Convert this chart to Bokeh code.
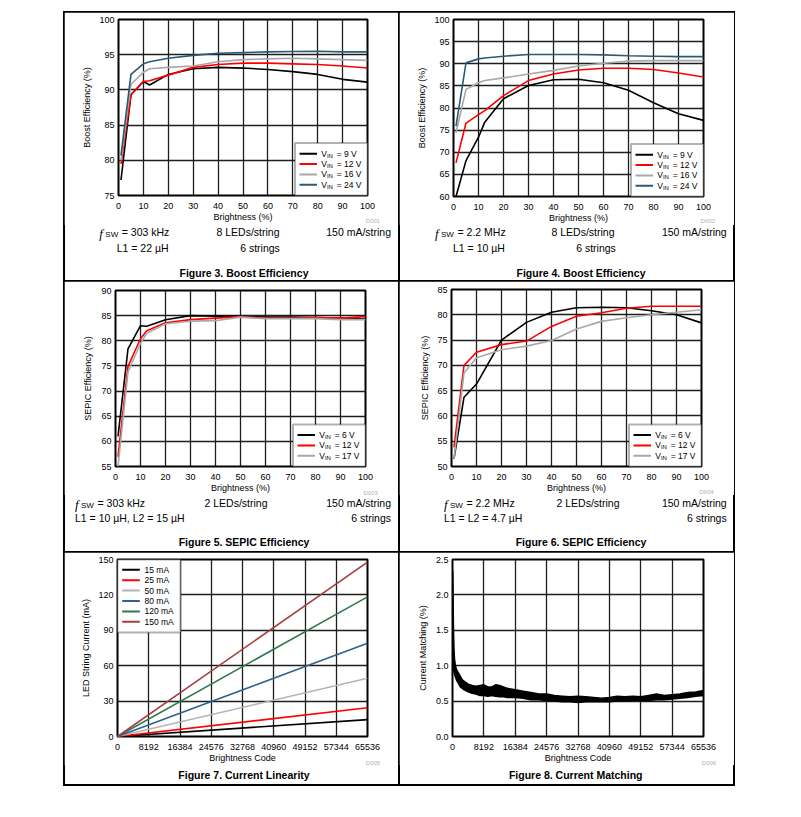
from bokeh.plotting import figure
from bokeh.models import FixedTicker, Label, BoxAnnotation, Arrow, Spacer, NumeralTickFormatter, Div
from bokeh.layouts import row, column
from bokeh.embed import file_html
from bokeh.resources import INLINE

FONT = "Liberation Sans"
BLACK, RED, GRAY, TEAL = "#000000", "#ff0000", "#a8a8a8", "#2b5a78"

# ---------------- data ----------------
pct_ticks = [0, 10, 20, 30, 40, 50, 60, 70, 80, 90, 100]
code_ticks = [0, 8192, 16384, 24576, 32768, 40960, 49152, 57344, 65536]

# Figure 3 - Boost efficiency, 303 kHz
f3_x = [1, 5, 10, 12.5, 20, 30, 40, 50, 60, 70, 80, 90, 100]
f3_vin9 = [77.2, 89.3, 91.2, 90.7, 92.2, 93.0, 93.2, 93.1, 92.9, 92.6, 92.2, 91.5, 91.1]
f3_vin12 = [79.5, 89.3, 91.2, 91.3, 92.1, 93.2, 93.6, 93.8, 93.8, 93.7, 93.6, 93.4, 93.1]
f3_vin16 = [80.0, 90.8, 92.5, 93.0, 93.2, 93.4, 94.0, 94.3, 94.4, 94.5, 94.4, 94.3, 94.2]
f3_vin24 = [80.7, 92.2, 93.7, 94.0, 94.5, 94.9, 95.2, 95.3, 95.4, 95.45, 95.5, 95.4, 95.4]
f3_yticks = [75, 80, 85, 90, 95, 100]

# Figure 4 - Boost efficiency, 2.2 MHz
f4_x = [1, 5, 10, 12.5, 20, 30, 40, 50, 60, 70, 80, 90, 100]
f4_vin9 = [60.0, 68.1, 73.4, 76.8, 82.1, 85.1, 86.4, 86.5, 85.7, 84.0, 81.2, 78.7, 77.2]
f4_vin12 = [67.6, 76.6, 78.5, 79.4, 82.8, 86.2, 87.7, 88.6, 89.0, 89.0, 88.7, 87.9, 87.0]
f4_vin16 = [74.4, 84.2, 85.7, 86.2, 86.8, 87.7, 88.5, 89.5, 90.1, 90.6, 90.7, 90.7, 90.7]
f4_vin24 = [75.9, 90.2, 91.1, 91.3, 91.7, 92.1, 92.1, 92.1, 92.0, 91.8, 91.7, 91.6, 91.6]
f4_yticks = [60, 65, 70, 75, 80, 85, 90, 95, 100]

# Figure 5 - SEPIC efficiency, 303 kHz
f5_x = [1, 5, 10, 12.5, 20, 30, 40, 50, 60, 70, 80, 90, 100]
f5_vin6 = [61.0, 78.4, 83.0, 82.9, 84.2, 85.0, 84.9, 84.8, 84.7, 84.7, 84.6, 84.5, 84.3]
f5_vin12 = [56.9, 74.9, 80.4, 82.0, 83.6, 84.2, 84.5, 84.8, 84.5, 84.5, 84.6, 84.5, 84.8]
f5_vin17 = [55.0, 73.8, 79.5, 81.5, 83.4, 83.9, 84.0, 84.7, 84.4, 84.4, 84.4, 84.2, 84.2]
f5_yticks = [55, 60, 65, 70, 75, 80, 85, 90]

# Figure 6 - SEPIC efficiency, 2.2 MHz
f6_x = [1, 5, 10, 20, 30, 40, 50, 60, 70, 80, 90, 100]
f6_vin6 = [51.5, 63.7, 66.3, 75.0, 78.5, 80.5, 81.4, 81.5, 81.4, 80.8, 80.0, 78.4]
f6_vin12 = [53.8, 70.0, 72.6, 74.1, 74.8, 77.7, 79.7, 80.4, 81.3, 81.7, 81.7, 81.7]
f6_vin17 = [51.5, 68.5, 71.5, 73.1, 73.8, 74.9, 77.2, 78.7, 79.4, 80.0, 80.5, 81.0]
f6_yticks = [50, 55, 60, 65, 70, 75, 80, 85]

# Figure 7 - Current linearity
f7_code = [0, 65535]
f7_15mA = [0, 14.3]
f7_25mA = [0, 24.3]
f7_50mA = [0, 49.3]
f7_80mA = [0, 79.0]
f7_120mA = [0, 118.3]
f7_150mA = [0, 147.8]
f7_yticks = [0, 30, 60, 90, 120, 150]

# Figure 8 - Current matching (envelope of the noisy trace)
f8_code = [0, 64, 128, 192, 256, 384, 512, 768, 1024, 1536, 2048, 2560, 3072, 4096, 5120,
           6144, 7168, 8192, 9216, 10240, 11264, 12288, 13312, 14336, 16384, 18432, 20480,
           22528, 24576, 26624, 28672, 30720, 32768, 34816, 36864, 38912, 40960, 43008,
           45056, 47104, 49152, 51200, 53248, 55296, 57344, 59392, 61440, 63488, 65536]
f8_upper = [2.35, 2.30, 2.10, 1.75, 1.50, 1.25, 1.10, 1.00, 0.95, 0.90, 0.85, 0.80, 0.78,
            0.74, 0.72, 0.71, 0.72, 0.73, 0.70, 0.70, 0.73, 0.72, 0.70, 0.68, 0.66, 0.64,
            0.62, 0.60, 0.60, 0.58, 0.57, 0.56, 0.57, 0.56, 0.55, 0.54, 0.55, 0.57, 0.56,
            0.57, 0.56, 0.58, 0.60, 0.58, 0.59, 0.60, 0.62, 0.63, 0.65]
f8_lower = [1.30, 1.25, 1.15, 1.05, 0.98, 0.92, 0.88, 0.84, 0.80, 0.75, 0.70, 0.68, 0.66,
            0.63, 0.61, 0.60, 0.58, 0.58, 0.57, 0.58, 0.57, 0.56, 0.56, 0.55, 0.55, 0.54,
            0.52, 0.52, 0.51, 0.50, 0.49, 0.49, 0.48, 0.49, 0.49, 0.49, 0.49, 0.50, 0.50,
            0.51, 0.51, 0.51, 0.52, 0.52, 0.53, 0.54, 0.55, 0.57, 0.58]
f8_yticks = [0.0, 0.5, 1.0, 1.5, 2.0, 2.5]

FRAMES = {}


# ---------------- helpers ----------------
def make_fig(cell, frame, fig_end, xr, yr, xticks, yticks, xlabel, ylabel, ylab_standoff=4):
    cx0, cy0, cx1, cy1 = cell
    fx0, fy0, fx1, fy1 = frame
    p = figure(frame_width=fx1 - fx0, frame_height=fy1 - fy0,
               min_border_left=fx0 - cx0, min_border_right=cx1 - fx1,
               min_border_top=fy0 - cy0, min_border_bottom=fig_end - fy1,
               x_range=xr, y_range=yr, output_backend="svg", toolbar_location=None)
    p.outline_line_color = "black"
    p.outline_line_width = 2
    p.background_fill_color = "white"
    p.border_fill_color = "white"
    p.xaxis.ticker = FixedTicker(ticks=xticks)
    p.yaxis.ticker = FixedTicker(ticks=yticks)
    for ax in (p.xaxis, p.yaxis):
        ax.axis_line_color = None
        ax.major_tick_line_color = None
        ax.minor_tick_line_color = None
        ax.major_tick_in = 0
        ax.major_tick_out = 0
        ax.minor_tick_in = 0
        ax.minor_tick_out = 0
        ax.major_label_text_font = FONT
        ax.major_label_text_font_size = "9px"
        ax.major_label_text_color = "black"
        ax.axis_label_text_font = FONT
        ax.axis_label_text_font_size = "9px"
        ax.axis_label_text_font_style = "normal"
        ax.axis_label_text_color = "black"
    p.xaxis.axis_label = xlabel
    p.yaxis.axis_label = ylabel
    p.xaxis.major_label_standoff = 7
    p.xaxis.axis_label_standoff = 0
    p.yaxis.major_label_standoff = 4
    p.yaxis.axis_label_standoff = ylab_standoff
    p.grid.grid_line_color = "#1e1e1e"
    p.grid.grid_line_width = 1.3
    FRAMES[id(p)] = frame
    return p


def txt(p, px, py, text, size="8.5px", align="left", color="black"):
    fx0, fy0, fx1, fy1 = FRAMES[id(p)]
    p.add_layout(Label(x=px - fx0, y=fy1 - py, x_units="screen", y_units="screen",
                       text=text, text_font=FONT, text_font_size=size, text_color=color,
                       text_align=align, text_baseline="middle"))


def vin_legend(p, items, width=72.5, step=10.3):
    fx0, fy0, fx1, fy1 = FRAMES[id(p)]
    W = fx1 - fx0
    n = len(items)
    top = n * step + 11.2
    p.add_layout(BoxAnnotation(left=W - width, right=W, bottom=0, top=top,
                               left_units="screen", right_units="screen",
                               top_units="screen", bottom_units="screen",
                               fill_color="white", fill_alpha=1.0,
                               line_color="black", line_width=2))
    for i, (color, rest) in enumerate(items):
        y = top - 10.7 - i * step
        p.add_layout(Arrow(end=None, x_start=W - 68, y_start=y, x_end=W - 50.5, y_end=y,
                           start_units="screen", end_units="screen",
                           line_color=color, line_width=2))
        x0 = fx0 + W - 46.3
        txt(p, x0, fy1 - y, "V")
        txt(p, x0 + 5.7, fy1 - y + 1.8, "IN", size="6px")
        txt(p, x0 + 15.5, fy1 - y, rest)


SHIFT = {"left": "0", "center": "-50%", "right": "-100%"}


def span(x, y, html, align="left", size=10.5, extra=""):
    return (f'<span style="position:absolute;left:{x:.1f}px;top:{y:.1f}px;'
            f'transform:translate({SHIFT[align]},-50%);font-size:{size}px;line-height:1;'
            f'white-space:nowrap;{extra}">{html}</span>')


def notes_div(cell, fig_end, items):
    """items: (page_x, page_y, html, align, size, extra) in page coordinates."""
    cx0, cy0, cx1, cy1 = cell
    h = cy1 - fig_end
    inner = "".join(span(x - cx0, y - fig_end, t, a, s, e) for (x, y, t, a, s, e) in items)
    html = (f'<div style="position:relative;width:{cx1 - cx0}px;height:{h}px;'
            f"font-family:'Liberation Sans',Arial,sans-serif;color:black;\">{inner}</div>")
    return Div(text=html, width=cx1 - cx0, height=h, margin=0,
               styles={"overflow": "visible"})


def fsw_items(x, y, rest):
    return [(x, y + 0.5, "f", "left", 13, "font-family:'Liberation Serif',serif;font-style:italic;"),
            (x + 6, y + 2.5, "SW", "left", 8, ""),
            (x + 22.5, y, rest, "left", 10.5, "")]


def dtag(x, y, t):
    return (x, y, t, "center", 6, "color:#b0b0b0;")


def title(x, y, t):
    return (x, y, t, "center", 10.5, "font-weight:bold;")


def cell_box(fig, div):
    return column(fig, div, spacing=0,
                  styles={"outline": "2px solid black", "outline-offset": "-1px"})


# ---------------- Figure 3 ----------------
cA = (64, 12, 399, 281)
pA = make_fig(cA, (118, 19, 367, 195), 225, (0, 100), (75, 100),
              pct_ticks, f3_yticks, "Brightness (%)", "Boost Efficiency (%)")
for ys, c in ((f3_vin9, BLACK), (f3_vin12, RED), (f3_vin16, GRAY), (f3_vin24, TEAL)):
    pA.line(f3_x, ys, line_color=c, line_width=1.6)
vin_legend(pA, [(BLACK, "= 9 V"), (RED, "= 12 V"), (GRAY, "= 16 V"), (TEAL, "= 24 V")])
dA = notes_div(cA, 225, [dtag(373, 220.7, "D001")] + fsw_items(99.3, 232, "= 303 kHz") + [
    (248, 232, "8 LEDs/string", "center", 10.5, ""),
    (391, 232, "150 mA/string", "right", 10.5, ""),
    (116.7, 248, "L1 = 22 µH", "left", 10.5, ""),
    (260, 248, "6 strings", "center", 10.5, ""),
    title(244, 273, "Figure 3. Boost Efficiency")])

# ---------------- Figure 4 ----------------
cB = (399, 12, 734, 281)
pB = make_fig(cB, (453, 19, 703, 196), 225, (0, 100), (60, 100),
              pct_ticks, f4_yticks, "Brightness (%)", "Boost Efficiency (%)")
for ys, c in ((f4_vin9, BLACK), (f4_vin12, RED), (f4_vin16, GRAY), (f4_vin24, TEAL)):
    pB.line(f4_x, ys, line_color=c, line_width=1.6)
vin_legend(pB, [(BLACK, "= 9 V"), (RED, "= 12 V"), (GRAY, "= 16 V"), (TEAL, "= 24 V")])
dB = notes_div(cB, 225, [dtag(708, 220.7, "D002")] + fsw_items(435, 232, "= 2.2 MHz") + [
    (583, 232, "8 LEDs/string", "center", 10.5, ""),
    (726.7, 232, "150 mA/string", "right", 10.5, ""),
    (453, 248, "L1 = 10 µH", "left", 10.5, ""),
    (596, 248, "6 strings", "center", 10.5, ""),
    title(581, 273, "Figure 4. Boost Efficiency")])

# ---------------- Figure 5 ----------------
cC = (64, 281, 399, 551)
pC = make_fig(cC, (115, 290, 365, 466), 494, (0, 100), (55, 90),
              pct_ticks, f5_yticks, "Brightness (%)", "SEPIC Efficiency (%)", ylab_standoff=5)
for ys, c in ((f5_vin6, BLACK), (f5_vin12, RED), (f5_vin17, GRAY)):
    pC.line(f5_x, ys, line_color=c, line_width=1.6)
vin_legend(pC, [(BLACK, "= 6 V"), (RED, "= 12 V"), (GRAY, "= 17 V")])
dC = notes_div(cC, 494, [dtag(370.7, 492, "D003")] + fsw_items(75, 502.3, "= 303 kHz") + [
    (236, 502.3, "2 LEDs/string", "center", 10.5, ""),
    (391, 502.3, "150 mA/string", "right", 10.5, ""),
    (75, 517.3, "L1 = 10 µH, L2 = 15 µH", "left", 10.5, ""),
    (391, 517.3, "6 strings", "right", 10.5, ""),
    title(244, 540.7, "Figure 5. SEPIC Efficiency")])

# ---------------- Figure 6 ----------------
cD = (399, 281, 734, 551)
pD = make_fig(cD, (451, 289, 701, 466), 494, (0, 100), (50, 85),
              pct_ticks, f6_yticks, "Brightness (%)", "SEPIC Efficiency (%)")
for ys, c in ((f6_vin6, BLACK), (f6_vin12, RED), (f6_vin17, GRAY)):
    pD.line(f6_x, ys, line_color=c, line_width=1.6)
vin_legend(pD, [(BLACK, "= 6 V"), (RED, "= 12 V"), (GRAY, "= 17 V")])
dD = notes_div(cD, 494, [dtag(706.7, 491, "D004")] + fsw_items(444, 502.3, "= 2.2 MHz") + [
    (588, 502.3, "2 LEDs/string", "center", 10.5, ""),
    (726.7, 502.3, "150 mA/string", "right", 10.5, ""),
    (444, 517.3, "L1 = L2 = 4.7 µH", "left", 10.5, ""),
    (726.7, 517.3, "6 strings", "right", 10.5, ""),
    title(581, 540.7, "Figure 6. SEPIC Efficiency")])

# ---------------- Figure 7 ----------------
cE = (64, 551, 399, 783)
pE = make_fig(cE, (117, 558, 367, 735), 763, (0, 65536), (0, 150),
              code_ticks, f7_yticks, "Brightness Code", "LED String Current (mA)")
f7_series = [(f7_15mA, BLACK, "15 mA"), (f7_25mA, RED, "25 mA"), (f7_50mA, "#b4b4b4", "50 mA"),
             (f7_80mA, "#30628e", "80 mA"), (f7_120mA, "#2e7a50", "120 mA"),
             (f7_150mA, "#a63c3c", "150 mA")]
for ys, c, _ in f7_series:
    pE.line(f7_code, ys, line_color=c, line_width=1.6)
H = 735 - 558
pE.add_layout(BoxAnnotation(left=0, right=63, bottom=H - 73, top=H,
                            left_units="screen", right_units="screen",
                            top_units="screen", bottom_units="screen",
                            fill_color="white", fill_alpha=1.0,
                            line_color="black", line_width=2))
for i, (_, c, lab) in enumerate(f7_series):
    y = H - 10.3 - i * 10.4
    pE.add_layout(Arrow(end=None, x_start=4.7, y_start=y, x_end=22.3, y_end=y,
                        start_units="screen", end_units="screen", line_color=c, line_width=2))
    txt(pE, 144, 735 - y, lab)
dE = notes_div(cE, 763, [dtag(373, 761, "D005"),
                         title(244, 773.3, "Figure 7. Current Linearity")])

# ---------------- Figure 8 ----------------
cF = (399, 551, 734, 783)
pF = make_fig(cF, (452, 558, 703, 735), 763, (0, 65536), (0, 2.5),
              code_ticks, f8_yticks, "Brightness Code", "Current Matching (%)", ylab_standoff=5)
pF.yaxis.formatter = NumeralTickFormatter(format="0.0")
pF.varea(x=f8_code, y1=f8_lower, y2=f8_upper, fill_color="black")
pF.line(f8_code, f8_upper, line_color="black", line_width=1.5)
pF.line(f8_code, f8_lower, line_color="black", line_width=1.5)
dF = notes_div(cF, 763, [dtag(709, 761, "D006"),
                         title(575.7, 773.3, "Figure 8. Current Matching")])

layout = column(
    Spacer(height=12, width=10),
    row(Spacer(width=64, height=269), cell_box(pA, dA), cell_box(pB, dB), spacing=0),
    row(Spacer(width=64, height=270), cell_box(pC, dC), cell_box(pD, dD), spacing=0),
    row(Spacer(width=64, height=232), cell_box(pE, dE), cell_box(pF, dF), spacing=0),
    spacing=0,
)

open("out.html", "w").write(file_html(layout, INLINE))
